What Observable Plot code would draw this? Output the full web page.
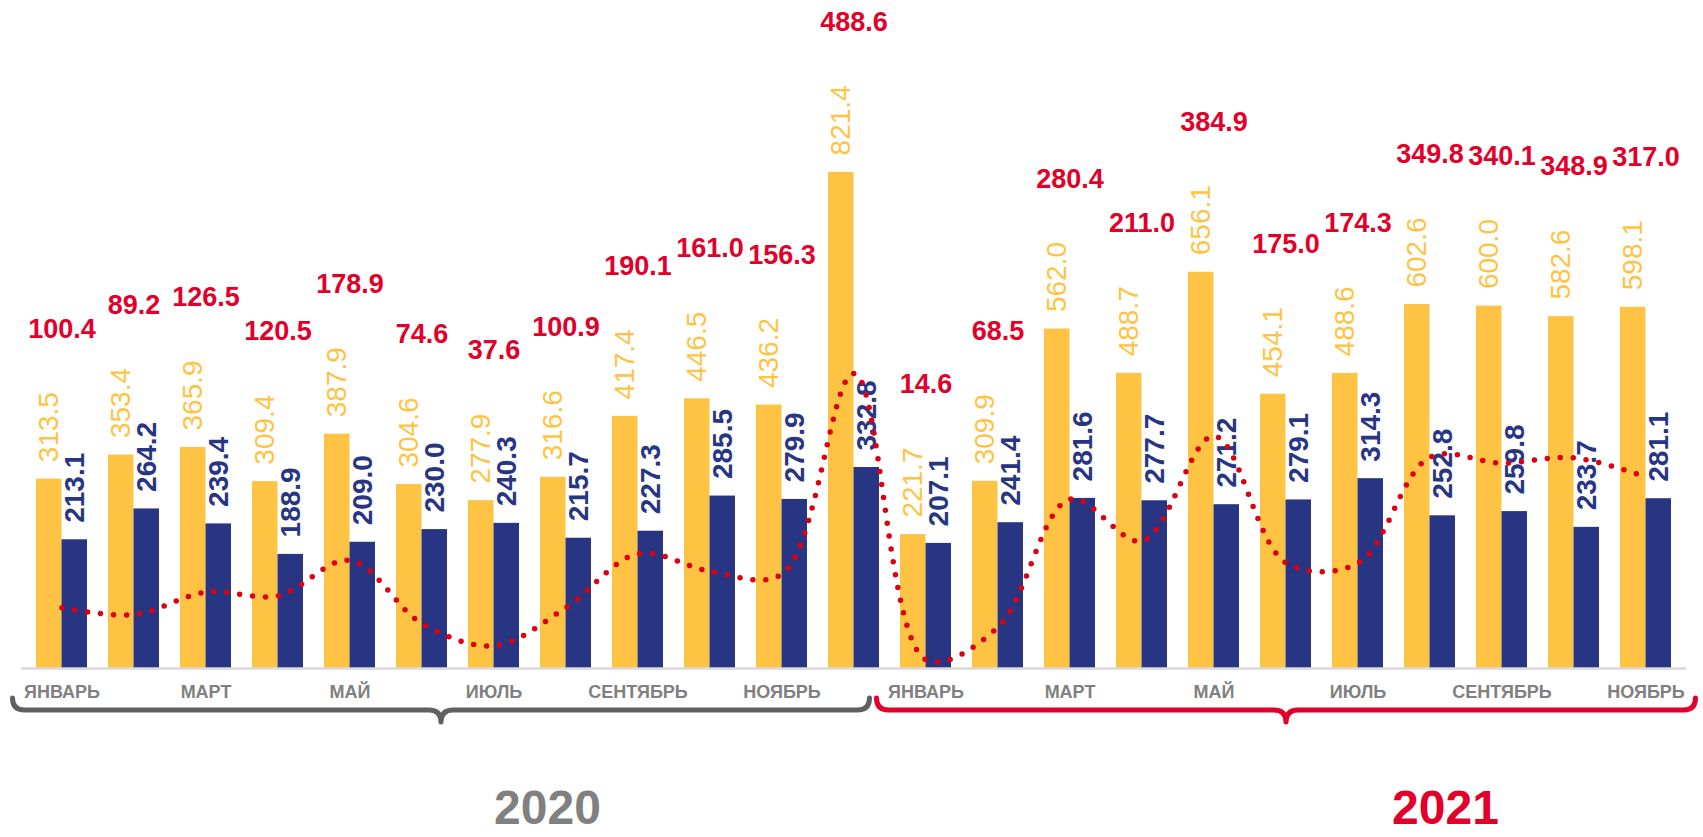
<!DOCTYPE html>
<html>
<head>
<meta charset="utf-8">
<script src="https://cdn.jsdelivr.net/npm/d3@7"></script>
<script src="https://cdn.jsdelivr.net/npm/@observablehq/plot@0.6"></script>
<style>
  html, body { margin: 0; padding: 0; background: #ffffff; }
  #chart { width: 1703px; height: 837px; overflow: hidden; }
</style>
</head>
<body>
<div id="chart"></div>
<script>
// ---- data ----
const years = ["2020", "2021"];
const monthNames = ["ЯНВАРЬ","ФЕВРАЛЬ","МАРТ","АПРЕЛЬ","МАЙ","ИЮНЬ","ИЮЛЬ","АВГУСТ","СЕНТЯБРЬ","ОКТЯБРЬ","НОЯБРЬ","ДЕКАБРЬ"];
const monthsPerYear = [12, 11];
const exportValues = [313.5,353.4,365.9,309.4,387.9,304.6,277.9,316.6,417.4,446.5,436.2,821.4,
                      221.7,309.9,562.0,488.7,656.1,454.1,488.6,602.6,600.0,582.6,598.1];
const importValues = [213.1,264.2,239.4,188.9,209.0,230.0,240.3,215.7,227.3,285.5,279.9,332.8,
                      207.1,241.4,281.6,277.7,271.2,279.1,314.3,252.8,259.8,233.7,281.1];
const balanceValues = [100.4,89.2,126.5,120.5,178.9,74.6,37.6,100.9,190.1,161.0,156.3,488.6,
                       14.6,68.5,280.4,211.0,384.9,175.0,174.3,349.8,340.1,348.9,317.0];

// ---- styles ----
const YELLOW = "#FFC343";
const BLUE = "#283583";
const RED = "#E2002B";
const DOT_RED = "#DD0010";
const GREY = "#808080";
const BRACE_COLORS = ["#606060", "#E2002B"];
const YEAR_COLORS = ["#808080", "#E2002B"];
const YEAR_SHIFT = [-18, 16];

const W = 1703, H = 837;
const ML = 21.5, MR = 16.8, MT = 0, MB = 169;
const PAD = 0.295;

// build table
const data = [];
let idx = 0;
years.forEach((yr, yi) => {
  for (let m = 0; m < monthsPerYear[yi]; m++) {
    data.push({
      key: `${yr}-${String(m + 1).padStart(2, "0")}`,
      year: yr,
      month: monthNames[m],
      m,
      exp: exportValues[idx],
      imp: importValues[idx],
      bal: balanceValues[idx]
    });
    idx++;
  }
});
const keys = data.map(d => d.key);
const tickKeys = data.filter(d => d.m % 2 === 0).map(d => d.key);
const nameOf = new Map(data.map(d => [d.key, d.month]));

const step = (W - ML - MR) / keys.length;
const bw = step * (1 - PAD);

const plot = Plot.plot({
  width: W,
  height: H,
  marginLeft: ML,
  marginRight: MR,
  marginTop: MT,
  marginBottom: MB,
  style: { fontFamily: "'Liberation Sans', Arial, sans-serif", background: "#ffffff" },
  x: { domain: keys, paddingInner: PAD, paddingOuter: PAD / 2, axis: null },
  y: { domain: [0, 1106], axis: null },
  marks: [
    Plot.barY(data, { x: "key", y: "exp", fill: YELLOW, insetLeft: 0, insetRight: bw / 2 }),
    Plot.barY(data, { x: "key", y: "imp", fill: BLUE, insetLeft: bw / 2, insetRight: 0 }),
    Plot.ruleY([0], { stroke: "#D9D9D9", strokeWidth: 2.5 }),
    Plot.axisX({
      ticks: tickKeys,
      tickFormat: k => nameOf.get(k),
      tickSize: 0,
      tickPadding: 17,
      fontSize: 18,
      fontWeight: "bold",
      color: GREY,
      label: null
    }),
    Plot.text(data, {
      x: "key", y: "exp", text: d => d.exp.toFixed(1),
      rotate: -90, textAnchor: "start", dx: -bw / 4, dy: -17,
      fill: YELLOW, fontSize: 28, fontWeight: "normal"
    }),
    Plot.text(data, {
      x: "key", y: "imp", text: d => d.imp.toFixed(1),
      rotate: -90, textAnchor: "start", dx: bw / 4, dy: -17,
      fill: BLUE, fontSize: 28, fontWeight: "bold"
    }),
    Plot.line(data, {
      x: "key", y: "bal", curve: "catmull-rom",
      stroke: DOT_RED, strokeWidth: 5.5, strokeDasharray: "0 13", strokeLinecap: "round"
    }),
    Plot.text(data, {
      x: "key", y: "exp", text: d => d.bal.toFixed(1),
      dy: -150, fill: RED, fontSize: 27, fontWeight: "bold"
    })
  ]
});

document.getElementById("chart").appendChild(plot);

// ---- year braces and year labels, positioned from the x scale ----
const xs = plot.scale("x");
const svg = d3.select(plot);
const braceY = 710, curl = 12, cusp = 12;
years.forEach((yr, yi) => {
  const yrKeys = data.filter(d => d.year === yr).map(d => d.key);
  const gap = (xs.step - xs.bandwidth) / 2;
  const bandStart = xs.apply(yrKeys[0]) - gap;
  const bandEnd = xs.apply(yrKeys[yrKeys.length - 1]) + xs.bandwidth + gap;
  const x0 = bandStart - 13;
  const x1 = yi === years.length - 1 ? bandEnd + 14 : bandEnd - 20;
  const xm = (x0 + x1) / 2;
  const p = `M${x0},${braceY - curl} Q${x0},${braceY} ${x0 + curl},${braceY}
    L${xm - curl},${braceY} Q${xm},${braceY} ${xm},${braceY + cusp}
    Q${xm},${braceY} ${xm + curl},${braceY} L${x1 - curl},${braceY}
    Q${x1},${braceY} ${x1},${braceY - curl}`;
  svg.append("path")
    .attr("d", p)
    .attr("fill", "none")
    .attr("stroke", BRACE_COLORS[yi])
    .attr("stroke-width", 5)
    .attr("stroke-linecap", "round")
    .attr("stroke-linejoin", "round");
  // year label near the August group
  const aug = `${yr}-08`;
  const cx = xs.apply(aug) + xs.bandwidth / 2 + YEAR_SHIFT[yi];
  svg.append("text")
    .attr("x", cx)
    .attr("y", 824)
    .attr("text-anchor", "middle")
    .attr("fill", YEAR_COLORS[yi])
    .attr("font-size", 48)
    .attr("font-weight", "bold")
    .attr("font-family", "'Liberation Sans', Arial, sans-serif")
    .text(yr);
});
</script>
</body>
</html>
